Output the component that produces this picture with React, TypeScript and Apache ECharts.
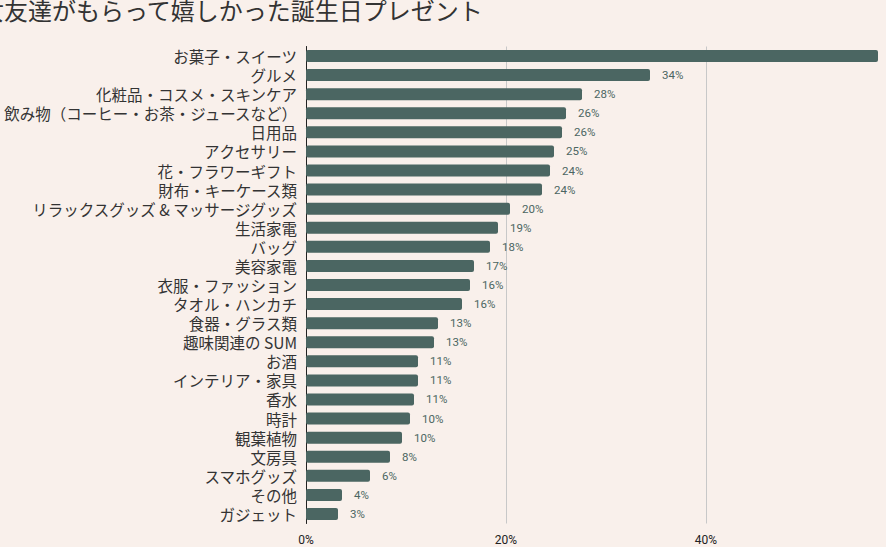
import React, { useEffect, useRef } from "react";
import * as echarts from "echarts";

const TITLE = "女友達がもらって嬉しかった誕生日プレゼント";

const categories = [
  "お菓子・スイーツ",
  "グルメ",
  "化粧品・コスメ・スキンケア",
  "飲み物（コーヒー・お茶・ジュースなど）",
  "日用品",
  "アクセサリー",
  "花・フラワーギフト",
  "財布・キーケース類",
  "リラックスグッズ & マッサージグッズ",
  "生活家電",
  "バッグ",
  "美容家電",
  "衣服・ファッション",
  "タオル・ハンカチ",
  "食器・グラス類",
  "趣味関連の SUM",
  "お酒",
  "インテリア・家具",
  "香水",
  "時計",
  "観葉植物",
  "文房具",
  "スマホグッズ",
  "その他",
  "ガジェット",
];

const values = [
  57.2, 34.4, 27.6, 26.0, 25.6, 24.8, 24.4, 23.6, 20.4, 19.2, 18.4, 16.8, 16.4,
  15.6, 13.2, 12.8, 11.2, 11.2, 10.8, 10.4, 9.6, 8.4, 6.4, 3.6, 3.2,
];

const xTicks = [0, 20, 40, 60];

export default function App() {
  const ref = useRef<HTMLDivElement>(null);
  useEffect(() => {
    if (!ref.current) return;
    const chart = echarts.init(ref.current, undefined, { renderer: "svg" });
    chart.setOption({
      animation: false,
      backgroundColor: "#f9f0eb",
      title: {
        text: TITLE,
        left: -25,
        top: -8,
        textStyle: {
          fontFamily: "Noto Sans CJK JP",
          fontSize: 24,
          fontWeight: "normal",
          color: "#333333",
        },
      },
      grid: {
        left: 306,
        width: 600,
        top: 46.5,
        bottom: 23.5,
        containLabel: false,
        outerBoundsMode: "none",
      },
      xAxis: {
        type: "value",
        min: xTicks[0],
        max: xTicks[xTicks.length - 1],
        interval: 20,
        axisLine: { show: false },
        axisTick: { show: false },
        splitLine: { lineStyle: { color: "#c8c8c8", width: 1 } },
        axisLabel: {
          formatter: (v: number) => `${v}%`,
          fontFamily: "Roboto",
          fontSize: 12,
          color: "#222222",
          margin: 10,
        },
      },
      yAxis: {
        type: "category",
        data: categories,
        inverse: true,
        axisLine: { show: true, lineStyle: { color: "#222222", width: 1 } },
        axisTick: { show: false },
        axisLabel: {
          interval: 0,
          hideOverlap: false,
          fontFamily: "Noto Sans CJK JP",
          fontSize: 15.5,
          lineHeight: 18,
          color: "#333333",
          margin: 9,
        },
      },
      series: [
        {
          type: "bar",
          data: values,
          barWidth: 12,
          itemStyle: { color: "#4b6662", borderRadius: 2 },
          label: {
            show: true,
            position: "right",
            distance: 12,
            formatter: (p: any) => `${Math.round(p.value)}%`,
            fontFamily: "Roboto",
            fontSize: 11.5,
            color: "#4b6662",
          },
        },
      ],
    });
    return () => chart.dispose();
  }, []);
  return (
    <div
      ref={ref}
      style={{ position: "absolute", left: 0, top: 0, width: 886, height: 547 }}
    />
  );
}
